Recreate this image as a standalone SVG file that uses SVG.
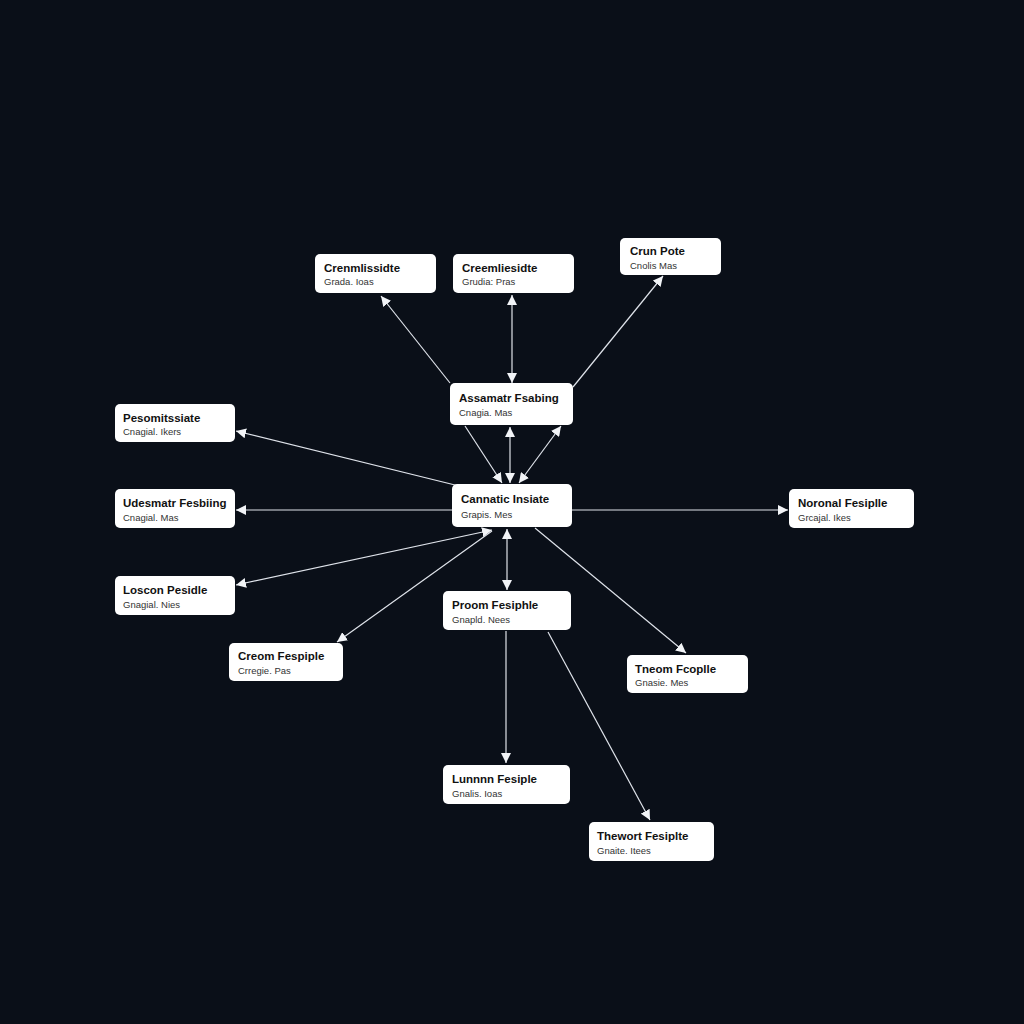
<svg xmlns="http://www.w3.org/2000/svg" width="1024" height="1024" viewBox="0 0 1024 1024">
<defs>
<style>
.box{fill:#ffffff;stroke:none}
.t{font-family:"Liberation Sans",Arial,sans-serif;font-size:11.5px;font-weight:bold;fill:#111111}
.s{font-family:"Liberation Sans",Arial,sans-serif;font-size:9.5px;fill:#333333}
.c{stroke:#dfe3ea;stroke-width:1.2;fill:none}
</style>
<marker id="ah" viewBox="0 0 10 10" refX="10" refY="5" markerWidth="10" markerHeight="10" markerUnits="userSpaceOnUse" orient="auto-start-reverse">
<path d="M0,0 L10,5 L0,10 z" fill="#f2f4f7"/>
</marker>
</defs>
<rect width="1024" height="1024" fill="#0a0f18"/>
<g id="connectors">
<line class="c" x1="450" y1="383" x2="381" y2="296" marker-end="url(#ah)"/>
<line class="c" x1="512" y1="383" x2="512" y2="295" marker-start="url(#ah)" marker-end="url(#ah)"/>
<line class="c" x1="573" y1="387" x2="663" y2="276" marker-end="url(#ah)"/>
<line class="c" x1="465" y1="426" x2="502" y2="483" marker-end="url(#ah)"/>
<line class="c" x1="510" y1="483" x2="510" y2="427" marker-start="url(#ah)" marker-end="url(#ah)"/>
<line class="c" x1="519" y1="483" x2="561" y2="426" marker-start="url(#ah)" marker-end="url(#ah)"/>
<line class="c" x1="455" y1="485" x2="236" y2="431" marker-end="url(#ah)"/>
<line class="c" x1="452" y1="510" x2="236" y2="510" marker-end="url(#ah)"/>
<line class="c" x1="572" y1="510" x2="788" y2="510" marker-end="url(#ah)"/>
<line class="c" x1="492" y1="530" x2="236" y2="585" marker-start="url(#ah)" marker-end="url(#ah)"/>
<line class="c" x1="492" y1="531" x2="337" y2="642" marker-end="url(#ah)"/>
<line class="c" x1="507" y1="529" x2="507" y2="590" marker-start="url(#ah)" marker-end="url(#ah)"/>
<line class="c" x1="535" y1="528" x2="686" y2="653" marker-end="url(#ah)"/>
<line class="c" x1="506" y1="631" x2="506" y2="763" marker-end="url(#ah)"/>
<line class="c" x1="548" y1="632" x2="650" y2="820" marker-end="url(#ah)"/>
</g>
<g id="n1"><rect class="box" x="315" y="254" width="121" height="39" rx="5"/><text class="t" x="324" y="272">Crenmlissidte</text><text class="s" x="324" y="285">Grada. Ioas</text></g>
<g id="n2"><rect class="box" x="453" y="254" width="121" height="39" rx="5"/><text class="t" x="462" y="272">Creemliesidte</text><text class="s" x="462" y="285">Grudia: Pras</text></g>
<g id="n3"><rect class="box" x="620" y="238" width="101" height="37" rx="5"/><text class="t" x="630" y="255">Crun Pote</text><text class="s" x="630" y="269">Cnolis Mas</text></g>
<g id="n4"><rect class="box" x="450" y="383" width="123" height="42" rx="5"/><text class="t" x="459" y="402">Assamatr Fsabing</text><text class="s" x="459" y="416">Cnagia. Mas</text></g>
<g id="n5"><rect class="box" x="452" y="484" width="120" height="43" rx="5"/><text class="t" x="461" y="503">Cannatic Insiate</text><text class="s" x="461" y="518">Grapis. Mes</text></g>
<g id="n6"><rect class="box" x="115" y="404" width="120" height="38" rx="5"/><text class="t" x="123" y="422">Pesomitssiate</text><text class="s" x="123" y="435">Cnagial. Ikers</text></g>
<g id="n7"><rect class="box" x="115" y="489" width="120" height="39" rx="5"/><text class="t" x="123" y="507">Udesmatr Fesbiing</text><text class="s" x="123" y="521">Cnagial. Mas</text></g>
<g id="n8"><rect class="box" x="115" y="576" width="120" height="39" rx="5"/><text class="t" x="123" y="594">Loscon Pesidle</text><text class="s" x="123" y="608">Gnagial. Nies</text></g>
<g id="n9"><rect class="box" x="789" y="489" width="125" height="39" rx="5"/><text class="t" x="798" y="507">Noronal Fesiplle</text><text class="s" x="798" y="521">Grcajal. Ikes</text></g>
<g id="n10"><rect class="box" x="229" y="643" width="114" height="38" rx="5"/><text class="t" x="238" y="660">Creom Fespiple</text><text class="s" x="238" y="674">Crregie. Pas</text></g>
<g id="n11"><rect class="box" x="443" y="591" width="128" height="39" rx="5"/><text class="t" x="452" y="609">Proom Fesiphle</text><text class="s" x="452" y="623">Gnapld. Nees</text></g>
<g id="n12"><rect class="box" x="627" y="655" width="121" height="38" rx="5"/><text class="t" x="635" y="673">Tneom Fcoplle</text><text class="s" x="635" y="686">Gnasie. Mes</text></g>
<g id="n13"><rect class="box" x="443" y="765" width="127" height="39" rx="5"/><text class="t" x="452" y="783">Lunnnn Fesiple</text><text class="s" x="452" y="797">Gnalis. Ioas</text></g>
<g id="n14"><rect class="box" x="589" y="822" width="125" height="39" rx="5"/><text class="t" x="597" y="840">Thewort Fesiplte</text><text class="s" x="597" y="854">Gnaite. Itees</text></g>
</svg>
